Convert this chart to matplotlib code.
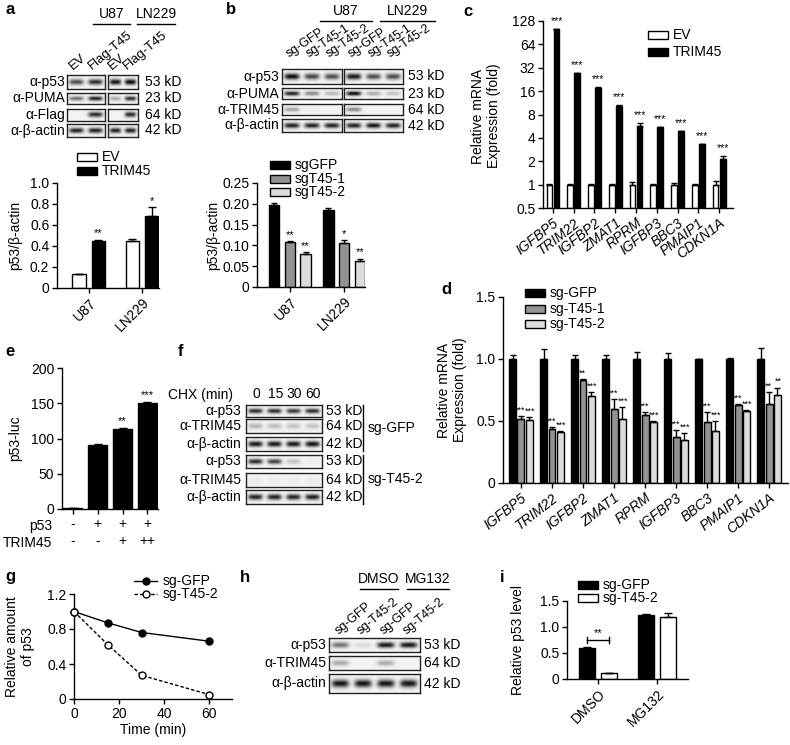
import numpy as np
import matplotlib
matplotlib.use('Agg')
import matplotlib.pyplot as plt
from matplotlib.patches import Rectangle
from matplotlib.lines import Line2D

plt.rcParams['font.family'] = ['Liberation Sans', 'DejaVu Sans']
plt.rcParams['font.size'] = 9.5
plt.rcParams['axes.linewidth'] = 1.0

# ---------------- data ----------------
# panel a
a_groups = ['U87', 'LN229']
a_lanes = ['EV', 'Flag-T45']
a_rows = ['α-p53', 'α-PUMA', 'α-Flag', 'α-β-actin']
a_kd = ['53 kD', '23 kD', '64 kD', '42 kD']
a_blot_u87 = [[0.7, 0.85], [0.55, 0.9], [0.0, 0.85], [0.9, 0.9]]
a_blot_ln229 = [[0.95, 1.0], [0.3, 0.85], [0.0, 0.85], [0.9, 0.9]]
a_series = ['EV', 'TRIM45']
a_ev = [0.13, 0.45]
a_ev_err = [0.005, 0.02]
a_trim = [0.45, 0.69]
a_trim_err = [0.01, 0.08]
a_stars = ['**', '*']

# panel b
b_groups = ['U87', 'LN229']
b_lanes = ['sg-GFP', 'sg-T45-1', 'sg-T45-2']
b_rows = ['α-p53', 'α-PUMA', 'α-TRIM45', 'α-β-actin']
b_kd = ['53 kD', '23 kD', '64 kD', '42 kD']
b_blot_u87 = [[1.0, 0.75, 0.7], [0.9, 0.45, 0.25], [0.35, 0.02, 0.0], [0.9, 0.9, 0.9]]
b_blot_ln229 = [[0.95, 0.7, 0.7], [1.0, 0.3, 0.2], [0.45, 0.0, 0.0], [0.9, 0.95, 0.9]]
b_series = ['sgGFP', 'sgT45-1', 'sgT45-2']
b_vals = [[0.197, 0.184], [0.107, 0.105], [0.080, 0.062]]
b_errs = [[0.005, 0.005], [0.003, 0.007], [0.003, 0.006]]
b_stars = [['', ''], ['**', '*'], ['**', '**']]

# panel c
c_genes = ['IGFBP5', 'TRIM22', 'IGFBP2', 'ZMAT1', 'RPRM', 'IGFBP3', 'BBC3', 'PMAIP1', 'CDKN1A']
c_series = ['EV', 'TRIM45']
c_ev = [1, 1, 1, 1, 1, 1, 1, 1, 1]
c_ev_err = [0.02, 0.02, 0.03, 0.02, 0.09, 0.03, 0.05, 0.02, 0.1]
c_trim = [100, 27, 17.8, 10.3, 5.7, 5.5, 4.85, 3.32, 2.12]
c_trim_err = [1.5, 0.4, 0.3, 0.2, 0.5, 0.1, 0.08, 0.06, 0.2]
c_yticks = [0.5, 1, 2, 4, 8, 16, 32, 64, 128]

# panel d
d_genes = ['IGFBP5', 'TRIM22', 'IGFBP2', 'ZMAT1', 'RPRM', 'IGFBP3', 'BBC3', 'PMAIP1', 'CDKN1A']
d_series = ['sg-GFP', 'sg-T45-1', 'sg-T45-2']
d_gfp = [1, 1, 1, 1, 1, 1, 1, 1, 1]
d_gfp_err = [0.03, 0.08, 0.035, 0.03, 0.056, 0.048, 0.0, 0.01, 0.09]
d_t1 = [0.52, 0.435, 0.83, 0.60, 0.55, 0.37, 0.49, 0.63, 0.64]
d_t1_err = [0.02, 0.015, 0.005, 0.08, 0.02, 0.06, 0.08, 0.01, 0.09]
d_t2 = [0.51, 0.41, 0.70, 0.52, 0.49, 0.35, 0.42, 0.58, 0.71]
d_t2_err = [0.02, 0.01, 0.03, 0.09, 0.01, 0.05, 0.08, 0.01, 0.06]
d_stars_t1 = ['***', '***', '**', '***', '***', '***', '***', '***', '**']
d_stars_t2 = ['***', '***', '***', '***', '***', '***', '***', '***', '**']

# panel e
e_vals = [1.5, 91, 114, 151]
e_errs = [0.3, 0.5, 1.5, 1.0]
e_p53 = ['-', '+', '+', '+']
e_trim = ['-', '-', '+', '++']
e_stars = ['', '', '**', '***']

# panel f
f_times = ['0', '15', '30', '60']
f_rows = ['α-p53', 'α-TRIM45', 'α-β-actin', 'α-p53', 'α-TRIM45', 'α-β-actin']
f_kd = ['53 kD', '64 kD', '42 kD', '53 kD', '64 kD', '42 kD']
f_blot = [[0.85, 0.85, 0.8, 0.85], [0.25, 0.22, 0.2, 0.2], [0.95, 0.95, 0.95, 0.97],
          [0.85, 0.75, 0.2, 0.02], [0.03, 0.03, 0.03, 0.03], [0.9, 0.9, 0.9, 0.92]]
f_conditions = ['sg-GFP', 'sg-T45-2']

# panel g
g_time = [0, 15, 30, 60]
g_gfp = [1.0, 0.87, 0.76, 0.66]
g_t2 = [1.0, 0.62, 0.27, 0.05]

# panel h
h_groups = ['DMSO', 'MG132']
h_lanes = ['sg-GFP', 'sg-T45-2', 'sg-GFP', 'sg-T45-2']
h_rows = ['α-p53', 'α-TRIM45', 'α-β-actin']
h_kd = ['53 kD', '64 kD', '42 kD']
h_blot = [[0.55, 0.1, 0.95, 0.95], [0.3, 0.0, 0.3, 0.0], [0.95, 0.95, 0.95, 0.95]]

# panel i
i_groups = ['DMSO', 'MG132']
i_series = ['sg-GFP', 'sg-T45-2']
i_gfp = [0.60, 1.23]
i_gfp_err = [0.01, 0.02]
i_t2 = [0.11, 1.19]
i_t2_err = [0.01, 0.07]

# ---------------- helpers ----------------
W, H = 790, 745
fig = plt.figure(figsize=(W / 100, H / 100), dpi=100)


def axpx(x0, y0, x1, y1):
    return fig.add_axes([x0 / W, 1 - y1 / H, (x1 - x0) / W, (y1 - y0) / H])


def txt(x, y, s, **kw):
    kw.setdefault('ha', 'left')
    kw.setdefault('va', 'center')
    return fig.text(x / W, 1 - y / H, s, **kw)


def hline(x0, x1, y, lw=1.0):
    fig.add_artist(Line2D([x0 / W, x1 / W], [1 - y / H, 1 - y / H], color='black', lw=lw))


def vline(x, y0, y1, lw=1.0):
    fig.add_artist(Line2D([x / W, x / W], [1 - y0 / H, 1 - y1 / H], color='black', lw=lw))


def legbox(x, y, label, fc, w=20, h=8):
    fig.add_artist(Rectangle((x / W, 1 - (y + h / 2) / H), w / W, h / H, facecolor=fc,
                             edgecolor='black', lw=1.0, transform=fig.transFigure))
    txt(x + w + 5, y, label, fontsize=10)


def panel_label(x, y, s):
    txt(x, y, s, fontsize=12, fontweight='bold')


def draw_blot(x0, y0, x1, y1, intens):
    ax = axpx(x0, y0, x1, y1)
    n = len(intens)
    hp = int(round(y1 - y0)) * 4
    wp = int(round(x1 - x0)) * 4
    xs = (np.arange(wp) + 0.5) / wp * n
    ys = (np.arange(hp) + 0.5) / hp
    img = np.full((hp, wp), 0.95)
    py = np.exp(-((ys - 0.5) / 0.2) ** 2)
    for i, v in enumerate(intens):
        px = np.exp(-np.abs((xs - (i + 0.5)) / 0.38) ** 4)
        img -= v * 0.92 * np.outer(py, px)
    ax.imshow(np.clip(img, 0, 1), cmap='gray', vmin=0, vmax=1, extent=[0, n, 0, 1],
              aspect='auto', interpolation='bilinear')
    ax.set_xticks([])
    ax.set_yticks([])
    for s in ax.spines.values():
        s.set_linewidth(1.0)
        s.set_color('#222222')
    return ax


def style(ax):
    for s in ['top', 'right']:
        ax.spines[s].set_visible(False)
    ax.tick_params(direction='out', length=3.5, width=1.0, labelsize=10, pad=2)


def barset(ax, x, vals, errs, fc, width, cap=2.5, bottom=0):
    vals = np.asarray(vals, float)
    errs = np.asarray(errs, float)
    ax.bar(x, vals - bottom, width, bottom=bottom, color=fc, edgecolor='black', lw=1.0, zorder=2)
    ax.errorbar(x, vals, yerr=[np.zeros_like(errs), errs], fmt='none', ecolor='black',
                elinewidth=1.0, capsize=cap, capthick=1.0, zorder=3)


def stars(ax, x, tops, labels, size=8, dy=1):
    for xi, t, s in zip(x, tops, labels):
        if s:
            ax.annotate(s, (xi, t), xytext=(0, dy), textcoords='offset points',
                        ha='center', va='bottom', fontsize=size)


BLACK = '#000000'
GRAY = '#939393'
LIGHT = '#dcdcdc'

# ================= panel a =================
panel_label(6, 10, 'a')
for gx, g in zip([(93, 130), (137, 175)], a_groups):
    txt((gx[0] + gx[1]) / 2, 14, g, ha='center', fontsize=10)
    hline(gx[0], gx[1], 24)
a_rows_y = [(75, 89), (93, 104), (109, 121), (124, 137)]
for (bx0, bx1), blot in zip([(67, 105), (108, 138)], [a_blot_u87, a_blot_ln229]):
    n = len(a_lanes)
    for r, (ry0, ry1) in enumerate(a_rows_y):
        draw_blot(bx0, ry0, bx1, ry1, blot[r])
    for i, lane in enumerate(a_lanes):
        cx = bx0 + (i + 0.5) * (bx1 - bx0) / n
        txt(cx - 4, 70, lane, rotation=40, rotation_mode='anchor', va='baseline', fontsize=9.5)
for (ry0, ry1), lab, kd in zip(a_rows_y, a_rows, a_kd):
    txt(65, (ry0 + ry1) / 2, lab, ha='right', fontsize=10)
    txt(145, (ry0 + ry1) / 2, kd, fontsize=10)

ax = axpx(57, 183, 159, 288)
style(ax)
xg = np.arange(len(a_groups))
barset(ax, xg - 0.18, a_ev, a_ev_err, 'white', 0.26, cap=3)
barset(ax, xg + 0.18, a_trim, a_trim_err, BLACK, 0.26, cap=3)
stars(ax, xg + 0.18, np.add(a_trim, a_trim_err), a_stars)
ax.set_xlim(-0.6, 1.32)
ax.set_ylim(0, 1.0)
ax.set_yticks([0, 0.2, 0.4, 0.6, 0.8, 1.0])
ax.set_yticklabels(['0', '0.2', '0.4', '0.6', '0.8', '1.0'])
ax.set_xticks(xg)
ax.set_xticklabels(a_groups, rotation=45, ha='right', rotation_mode='anchor')
txt(15, 235, 'p53/β-actin', rotation=90, ha='center', fontsize=10)
legbox(77, 157, a_series[0], 'white')
legbox(77, 171, a_series[1], BLACK)

# ================= panel b =================
panel_label(226, 10, 'b')
for gx, g in zip([(320, 372), (380, 435)], b_groups):
    txt((gx[0] + gx[1]) / 2, 11, g, ha='center', fontsize=10)
    hline(gx[0], gx[1], 21)
b_rows_y = [(69, 84), (88, 99), (104, 115), (119, 132)]
for (bx0, bx1), blot in zip([(282, 342), (344, 403)], [b_blot_u87, b_blot_ln229]):
    n = len(b_lanes)
    for r, (ry0, ry1) in enumerate(b_rows_y):
        draw_blot(bx0, ry0, bx1, ry1, blot[r])
    for i, lane in enumerate(b_lanes):
        cx = bx0 + (i + 0.5) * (bx1 - bx0) / n
        txt(cx - 3, 58, lane, rotation=34, rotation_mode='anchor', va='baseline', fontsize=9)
for (ry0, ry1), lab, kd in zip(b_rows_y, b_rows, b_kd):
    txt(279, (ry0 + ry1) / 2, lab, ha='right', fontsize=10)
    txt(408, (ry0 + ry1) / 2, kd, fontsize=10)

ax = axpx(257, 183, 365, 287)
style(ax)
xg = np.arange(len(b_groups))
for k, (fc, off) in enumerate(zip([BLACK, GRAY, LIGHT], [-0.29, 0.0, 0.29])):
    barset(ax, xg + off, b_vals[k], b_errs[k], fc, 0.19, cap=2.5)
    stars(ax, xg + off, np.add(b_vals[k], b_errs[k]), b_stars[k])
ax.set_xlim(-0.6, 1.38)
ax.set_ylim(0, 0.25)
ax.set_yticks([0, 0.05, 0.10, 0.15, 0.20, 0.25])
ax.set_yticklabels(['0', '0.05', '0.10', '0.15', '0.20', '0.25'])
ax.set_xticks(xg)
ax.set_xticklabels(b_groups, rotation=45, ha='right', rotation_mode='anchor')
txt(213, 235, 'p53/β-actin', rotation=90, ha='center', fontsize=10)
legbox(270, 165, b_series[0], BLACK)
legbox(270, 179, b_series[1], GRAY)
legbox(270, 192, b_series[2], LIGHT)

# ================= panel c =================
panel_label(463, 12, 'c')
ax = axpx(543, 21, 733, 208)
style(ax)
ax.set_yscale('log', base=2)
xg = np.arange(len(c_genes))
barset(ax, xg - 0.17, c_ev, c_ev_err, 'white', 0.28, cap=2, bottom=0.5)
barset(ax, xg + 0.17, c_trim, c_trim_err, BLACK, 0.28, cap=2, bottom=0.5)
stars(ax, xg + 0.17, np.add(c_trim, c_trim_err), ['***'] * len(c_genes), size=7.5, dy=2)
ax.set_xlim(-0.48, 8.67)
ax.set_ylim(0.5, 128)
ax.set_yticks(c_yticks)
ax.set_yticklabels([('%g' % v) for v in c_yticks])
ax.yaxis.set_minor_locator(matplotlib.ticker.NullLocator())
ax.set_xticks(xg)
ax.set_xticklabels(c_genes, rotation=38, ha='right', rotation_mode='anchor', fontstyle='italic')
txt(486, 116, 'Relative mRNA\nExpression (fold)', rotation=90, ha='center', fontsize=10,
    multialignment='center', linespacing=1.1)
legbox(648, 35, c_series[0], 'white')
legbox(648, 52, c_series[1], BLACK)

# ================= panel d =================
panel_label(441, 290, 'd')
ax = axpx(503, 297, 788, 483)
style(ax)
xg = np.arange(len(d_genes))
barset(ax, xg - 0.27, d_gfp, d_gfp_err, BLACK, 0.225, cap=2)
barset(ax, xg, d_t1, d_t1_err, GRAY, 0.225, cap=2)
barset(ax, xg + 0.27, d_t2, d_t2_err, LIGHT, 0.225, cap=2)
stars(ax, xg - 0.02, np.add(d_t1, d_t1_err), d_stars_t1, size=6.5)
stars(ax, xg + 0.3, np.add(d_t2, d_t2_err), d_stars_t2, size=6.5)
ax.set_xlim(-0.58, 8.61)
ax.set_ylim(0, 1.5)
ax.set_yticks([0, 0.5, 1.0, 1.5])
ax.set_yticklabels(['0', '0.5', '1.0', '1.5'])
ax.set_xticks(xg)
ax.set_xticklabels(d_genes, rotation=38, ha='right', rotation_mode='anchor', fontstyle='italic')
txt(452, 390, 'Relative mRNA\nExpression (fold)', rotation=90, ha='center', fontsize=10,
    multialignment='center', linespacing=1.1)
legbox(525, 293, d_series[0], BLACK)
legbox(525, 309, d_series[1], GRAY)
legbox(525, 324, d_series[2], LIGHT)

# ================= panel e =================
panel_label(5, 352, 'e')
ax = axpx(62, 368, 158, 509)
style(ax)
xg = np.arange(len(e_vals))
barset(ax, xg, e_vals, e_errs, BLACK, 0.77, cap=3)
stars(ax, xg, np.add(e_vals, e_errs), e_stars)
ax.set_xlim(-0.44, 3.43)
ax.set_ylim(0, 200)
ax.set_yticks([0, 50, 100, 150, 200])
ax.set_xticks(xg)
ax.set_xticklabels(['%s\n%s' % (p, t) for p, t in zip(e_p53, e_trim)], linespacing=1.3)
txt(52, 526, 'p53', ha='right', fontsize=10)
txt(52, 543, 'TRIM45', ha='right', fontsize=10)
txt(15, 438, 'p53-luc', rotation=90, ha='center', fontsize=10)

# ================= panel f =================
panel_label(178, 352, 'f')
f_box = (246, 322)
f_rows_y = [(405, 417), (419, 433), (437, 451), (455, 468), (473, 487), (490, 504)]
txt(233, 395, 'CHX (min)', ha='right', fontsize=10)
nl = len(f_times)
for i, t in enumerate(f_times):
    cx = f_box[0] + (i + 0.5) * (f_box[1] - f_box[0]) / nl
    txt(cx + 1, 394, t, ha='center', fontsize=10)
for r, ((ry0, ry1), lab, kd) in enumerate(zip(f_rows_y, f_rows, f_kd)):
    draw_blot(f_box[0], ry0, f_box[1], ry1, f_blot[r])
    txt(241, (ry0 + ry1) / 2, lab, ha='right', fontsize=10)
    txt(326, (ry0 + ry1) / 2, kd, fontsize=10)
vline(363, 405, 451)
vline(363, 455, 504)
txt(368, 428, f_conditions[0], fontsize=10)
txt(368, 479, f_conditions[1], fontsize=10)

# ================= panel g =================
panel_label(5, 577, 'g')
ax = axpx(74, 594, 232, 699)
style(ax)
ax.plot(g_time, g_gfp, '-o', color='black', lw=1.0, ms=5, mfc='black', clip_on=False, zorder=3)
ax.plot(g_time, g_t2, '--o', color='black', lw=1.0, ms=5, mfc='white', dashes=(2.5, 1.5),
        clip_on=False, zorder=3)
ax.set_xlim(0, 70)
ax.set_ylim(0, 1.2)
ax.set_xticks([0, 20, 40, 60])
ax.set_yticks([0, 0.4, 0.8, 1.2])
ax.set_yticklabels(['0', '0.4', '0.8', '1.2'])
ax.set_xlabel('Time (min)', fontsize=10, labelpad=2)
txt(20, 647, 'Relative amount\nof p53', rotation=90, ha='center', fontsize=10,
    multialignment='center', linespacing=1.1)
for y, lab, mfc, ls in [(581, 'sg-GFP', 'black', '-'), (594, 'sg-T45-2', 'white', '--')]:
    fig.add_artist(Line2D([134 / W, 157 / W], [1 - y / H, 1 - y / H], color='black', lw=1.0,
                          ls=ls, dashes=(2.5, 1.5) if ls == '--' else (None, None)))
    fig.add_artist(Line2D([145.5 / W], [1 - y / H], marker='o', ms=5, mfc=mfc, mec='black',
                          color='black'))
    txt(163, y, lab, fontsize=10)

# ================= panel h =================
panel_label(240, 577, 'h')
h_box = (329, 420)
for gx, g in zip([(360, 398), (407, 449)], h_groups):
    txt((gx[0] + gx[1]) / 2, 579, g, ha='center', fontsize=10)
    hline(gx[0], gx[1], 589)
nl = len(h_lanes)
for i, lane in enumerate(h_lanes):
    cx = h_box[0] + (i + 0.5) * (h_box[1] - h_box[0]) / nl
    txt(cx - 2, 635, lane, rotation=40, rotation_mode='anchor', va='baseline', fontsize=9)
h_rows_y = [(638, 652), (656, 670), (674, 693)]
for r, ((ry0, ry1), lab, kd) in enumerate(zip(h_rows_y, h_rows, h_kd)):
    draw_blot(h_box[0], ry0, h_box[1], ry1, h_blot[r])
    txt(326, (ry0 + ry1) / 2, lab, ha='right', fontsize=10)
    txt(424, (ry0 + ry1) / 2, kd, fontsize=10)

# ================= panel i =================
panel_label(500, 577, 'i')
ax = axpx(567, 601, 688, 679)
style(ax)
xg = np.arange(len(i_groups))
barset(ax, xg - 0.19, i_gfp, i_gfp_err, BLACK, 0.27, cap=3)
barset(ax, xg + 0.19, i_t2, i_t2_err, 'white', 0.27, cap=3)
ybr = 0.75
ax.plot([xg[0] - 0.19, xg[0] + 0.19], [ybr, ybr], color='black', lw=1.0)
ax.plot([xg[0] - 0.19, xg[0] - 0.19], [ybr - 0.06, ybr + 0.06], color='black', lw=1.0)
ax.plot([xg[0] + 0.19, xg[0] + 0.19], [ybr - 0.06, ybr + 0.06], color='black', lw=1.0)
ax.annotate('**', (xg[0], ybr), xytext=(0, 1.5), textcoords='offset points', ha='center',
            va='bottom', fontsize=8)
ax.set_xlim(-0.53, 1.53)
ax.set_ylim(0, 1.5)
ax.set_yticks([0, 0.5, 1.0, 1.5])
ax.set_yticklabels(['0', '0.5', '1.0', '1.5'])
ax.set_xticks(xg)
ax.set_xticklabels(i_groups, rotation=45, ha='right', rotation_mode='anchor')
txt(518, 640, 'Relative p53 level', rotation=90, ha='center', fontsize=10)
legbox(578, 585, i_series[0], BLACK)
legbox(578, 598, i_series[1], 'white')

fig.savefig('out.png', dpi=100)
